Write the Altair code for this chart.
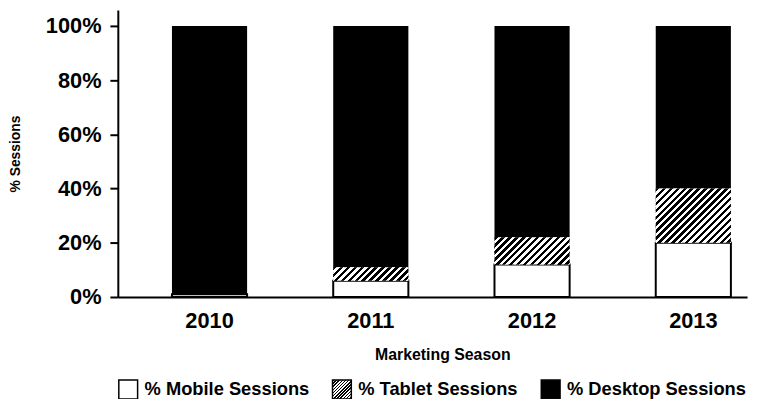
import json
import altair as alt
import pandas as pd

years = ["2010", "2011", "2012", "2013"]
mobile = [1, 6, 12, 20]
tablet = [0, 5, 10, 20]
desktop = [99, 89, 78, 60]
series = ["% Mobile Sessions", "% Tablet Sessions", "% Desktop Sessions"]
y_ticks = [0, 20, 40, 60, 80, 100]

rows = []
for i, yr in enumerate(years):
    lo = 0
    for k, (name, vals) in enumerate(zip(series, [mobile, tablet, desktop])):
        v = vals[i]
        rows.append(dict(year=yr, series=name, order=k, value=v, lo=lo, hi=lo + v))
        lo += v
df = pd.DataFrame(rows)

W, H = 636, 290
YMAX = 105.84
PX = H / YMAX
PI, PO, ALIGN = 0.534, 0.218, 0.77
step = W / (len(years) - PI + 2 * PO)
bw = step * (1 - PI)
FONT = "Liberation Sans"


def hatch(w, h, period, frac):
    L = (w * w + h * h) / h
    stops = []
    k = 0
    while k * period / L < 1:
        o0 = k * period / L
        o1 = min((k * period + period * frac) / L, 1)
        o2 = min((k + 1) * period / L, 1)
        stops += [
            {"offset": o0, "color": "black"},
            {"offset": o1, "color": "black"},
            {"offset": o1, "color": "white"},
            {"offset": o2, "color": "white"},
        ]
        k += 1
    return {"gradient": "linear", "x1": 0, "y1": 0, "x2": w / h, "y2": 1, "stops": stops}


legend_grad = hatch(19, 19, 3.2, 0.45)
grad_expr = json.dumps(legend_grad)

x_enc = alt.X(
    "year:N",
    sort=years,
    scale=alt.Scale(paddingInner=PI, paddingOuter=PO, align=ALIGN),
    title="Marketing Season",
    axis=alt.Axis(
        domainColor="black", domainWidth=2, ticks=False, grid=False,
        labelFont=FONT, labelFontSize=22, labelFontWeight="bold", labelColor="black",
        labelPadding=14, labelAngle=0,
        titleFont=FONT, titleFontSize=16, titleFontWeight="bold", titleColor="black",
        titleX=328, titleY=58, titleBaseline="middle", titleAlign="center",
    ),
)
y_enc = alt.Y(
    "lo:Q",
    scale=alt.Scale(domain=[0, YMAX], nice=False),
    title="% Sessions",
    axis=alt.Axis(
        values=y_ticks, labelExpr="datum.value + '%'", grid=False,
        domainColor="black", domainWidth=2, tickColor="black", tickWidth=2, tickSize=8,
        labelPadding=9, labelFont=FONT, labelFontSize=22, labelFontWeight="bold",
        labelColor="black", labelBaseline="middle",
        titleFont=FONT, titleFontSize=14, titleFontWeight="bold", titleColor="black",
        titleX=-103, titleY=145, titleAngle=270, titleBaseline="middle", titleAlign="center",
    ),
)

base_layer = alt.Chart(df).mark_bar(stroke="black").encode(
    x=x_enc,
    y=y_enc,
    y2="hi:Q",
    color=alt.Color(
        "series:N",
        scale=alt.Scale(domain=series, range=["white", {"expr": grad_expr}, "black"]),
        legend=alt.Legend(
            title=None, orient="none", legendX=0, legendY=373,
            direction="horizontal", columns=3,
            symbolType="square", symbolSize=361,
            symbolStrokeColor="black", symbolStrokeWidth=1.5,
            labelFont=FONT, labelFontSize=18.5, labelFontWeight="bold", labelColor="black",
            labelOffset=6, columnPadding=20, padding=0, labelLimit=400,
        ),
    ),
    strokeWidth=alt.condition("datum.order == 0", alt.value(2), alt.value(0)),
)

layers = [base_layer]
for i, yr in enumerate(years):
    if tablet[i] > 0:
        g = hatch(bw, tablet[i] * PX, 7, 0.5)
        sub = df[(df.year == yr) & (df.order == 1)]
        layers.append(
            alt.Chart(sub).mark_bar(fill=g).encode(x=x_enc, y=y_enc, y2="hi:Q")
        )

chart = alt.layer(*layers).properties(
    width=W,
    height=H,
    autosize=alt.AutoSizeParams(type="none"),
    padding={"left": 111, "top": 0, "right": 6, "bottom": 101},
).configure_view(stroke="transparent")

chart.save("out.html", embed_options={"renderer": "svg", "actions": False})
